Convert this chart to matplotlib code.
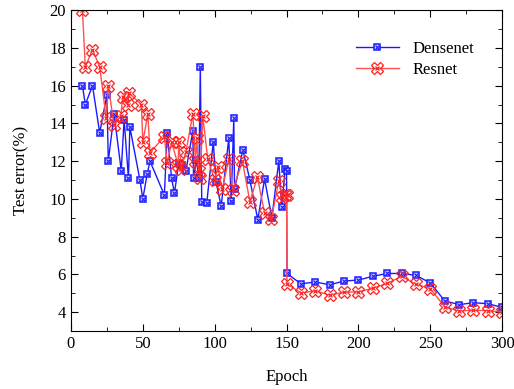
import matplotlib
matplotlib.use('Agg')
import matplotlib.pyplot as plt
from matplotlib.ticker import MultipleLocator
from matplotlib.legend_handler import HandlerTuple

plt.rcParams['font.family'] = ['Liberation Serif', 'DejaVu Serif']
plt.rcParams['mathtext.fontset'] = 'stix'

# Densenet test error
dense_epoch = [8, 10, 15, 20, 25, 26, 30, 35, 37, 40, 41, 48, 50, 53, 55,
               65, 67, 70, 72, 75, 77, 80, 84.8, 85.3, 87.3, 89, 90, 91, 94.5,
               99, 101, 104.5, 109.8, 111.5, 113.3, 113.8, 119.6, 124.5, 130,
               134.7, 139.8, 144.6, 146.7, 149, 150, 150.3,
               160, 170, 180, 190, 200, 210, 220, 230, 240, 250, 260, 270, 280, 290, 300]
dense_err = [16.0, 15.0, 16.0, 13.5, 15.5, 12.0, 14.5, 11.5, 14.2, 11.1, 13.8, 11.0, 10.0, 11.3, 12.0,
             10.2, 13.5, 11.1, 10.3, 11.9, 11.8, 11.5, 13.6, 11.1, 12.05, 11.1, 17.0, 9.85, 9.8,
             13.0, 10.9, 9.6, 13.2, 9.9, 14.3, 10.5, 12.6, 11.0, 8.9,
             11.05, 9.0, 12.0, 9.55, 11.6, 11.5, 6.05,
             5.5, 5.6, 5.45, 5.65, 5.7, 5.9, 6.05, 6.05, 5.95, 5.55, 4.6, 4.4, 4.5, 4.45, 4.25]

# Resnet test error
res_epoch = [8, 10, 15, 20, 24.5, 26, 30, 34.7, 36, 39.5, 40.5, 49, 50, 53.5, 55,
             65, 67, 70, 74.6, 75, 76.7, 80, 84.8, 86.6, 87.5, 88.9, 90, 91.7, 95.2,
             99.9, 102.2, 105.2, 109.8, 112.6, 119.3, 124.5, 129.7, 134.7, 139.5,
             144.6, 146.7, 148.6, 150, 150.3,
             160, 170, 180, 190, 200, 210, 220, 230, 240, 250, 260, 270, 280, 290, 300]
res_err = [20.0, 17.0, 17.9, 17.0, 14.3, 16.0, 13.9, 14.4, 15.4, 15.0, 15.6, 15.0, 13.0, 14.5, 12.45,
           13.3, 11.9, 13.0, 11.8, 13.0, 11.6, 12.5, 14.5, 12.0, 13.2, 11.5, 11.1, 14.4, 12.1,
           11.0, 11.7, 10.5, 12.1, 10.45, 12.0, 9.85, 11.15, 9.25, 8.95,
           10.95, 10.1, 10.2, 10.2, 5.5,
           5.02, 5.13, 4.9, 5.06, 5.07, 5.27, 5.52, 5.9, 5.48, 5.25, 4.28, 4.07, 4.1, 4.08, 4.0]

fig = plt.figure(figsize=(5.14, 3.89), dpi=100)
ax = fig.add_axes([0.138, 0.149, 0.839, 0.825])

d1, = ax.plot(dense_epoch, dense_err, '-', color='#1a1aff', lw=1.0,
              marker='s', ms=5, mfc='#c8c8ff', mec='#1a1aff', mew=1.1)
d2, = ax.plot(dense_epoch, dense_err, ls='none', marker='x', ms=2.2,
              mec='#1a1aff', mew=0.8)
r1, = ax.plot(res_epoch, res_err, '-', color='#ff5050', lw=1.0,
              marker='X', ms=8, mfc='none', mec='#ff2020', mew=0.9)
r2, = ax.plot(res_epoch, res_err, ls='none', marker='x', ms=3.5,
              mec='#ff2020', mew=0.9)

ax.set_xlim(0, 300)
ax.set_ylim(3, 20)
ax.xaxis.set_major_locator(MultipleLocator(50))
ax.xaxis.set_minor_locator(MultipleLocator(25))
ax.yaxis.set_major_locator(MultipleLocator(2))
ax.yaxis.set_minor_locator(MultipleLocator(1))
ax.set_yticks(range(4, 21, 2))
ax.tick_params(which='both', direction='in', top=True, right=True, labelsize=12)
ax.tick_params(which='major', length=5)
ax.tick_params(which='minor', length=3)

ax.set_xlabel('Epoch', fontsize=12, labelpad=12)
ax.set_ylabel('Test error(%)', fontsize=12, labelpad=14)

ax.legend([(d1, d2), (r1, r2)], ['Densenet', 'Resnet'],
          handler_map={tuple: HandlerTuple(ndivide=1)},
          loc='upper right', bbox_to_anchor=(0.97, 0.95), frameon=False,
          fontsize=12, handlelength=2.6, labelspacing=0.3)

fig.savefig('out.png', dpi=100)
